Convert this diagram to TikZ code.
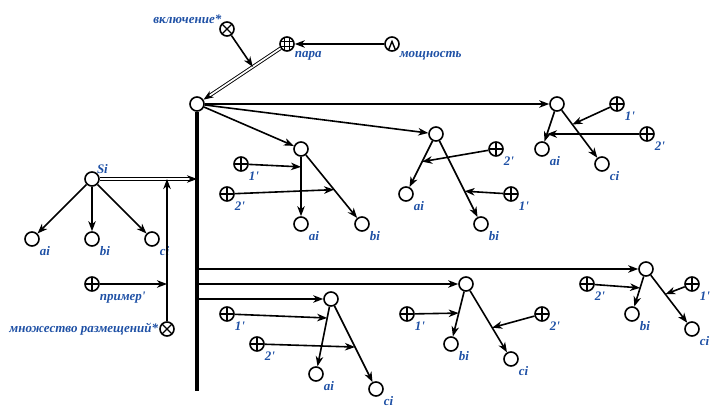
\documentclass[tikz,border=0pt]{standalone}
\usepackage{fontspec}
\setmainfont[Ligatures=TeXOff]{Liberation Serif}
\usetikzlibrary{arrows.meta,calc}
\definecolor{lblue}{RGB}{30,80,165}
\begin{document}
\begin{tikzpicture}[x=1pt,y=-1pt,
 nd/.style={circle,draw,line width=1.6pt,minimum size=14pt,inner sep=0pt},
 opl/.style={nd,path picture={\draw[line width=1.4pt] (path picture bounding box.north)--(path picture bounding box.south) (path picture bounding box.west)--(path picture bounding box.east);}},
 otm/.style={nd,path picture={\draw[line width=1.4pt] ($(path picture bounding box.center)+(45:7pt)$)--($(path picture bounding box.center)+(225:7pt)$) ($(path picture bounding box.center)+(135:7pt)$)--($(path picture bounding box.center)+(-45:7pt)$);}},
 ogr/.style={nd,path picture={\draw[line width=1.1pt] ($(path picture bounding box.center)+(-2.5pt,-8pt)$)--++(0,16pt) ($(path picture bounding box.center)+(2.5pt,-8pt)$)--++(0,16pt) ($(path picture bounding box.center)+(-8pt,-2.5pt)$)--++(16pt,0) ($(path picture bounding box.center)+(-8pt,2.5pt)$)--++(16pt,0);}},
 owg/.style={nd,path picture={\draw[line width=1.4pt] ($(path picture bounding box.center)+(-120:7pt)$)--($(path picture bounding box.center)+(0,2.5pt)$)--($(path picture bounding box.center)+(-60:7pt)$);}},
 lab/.style={text=lblue,font=\bfseries\itshape\fontsize{13}{15}\selectfont,inner sep=0pt},
 arr/.style={line width=1.6pt,-{Stealth[length=10pt,width=7.5pt,inset=3pt]}},
 dbl/.style={double,line width=0.9pt,double distance=1.8pt,-{Stealth[length=10pt,width=7.5pt,inset=3pt]}},
 ll/.style={label={[lab,label distance=3pt]below right:#1}},
]
\useasboundingbox (0,0) rectangle (717,419);
% top
\node[nd] (O) at (197,104) {};
\node[otm,label={[lab,label distance=0pt]above left:включение*}] (Incl) at (227,29) {};
\node[ogr,ll=пара] (Para) at (287,44) {};
\node[owg,ll=мощность] (Mosh) at (392,44) {};
\draw[arr] (Mosh) -- (Para);
\draw[dbl] (Para) -- (O);
\path (Para) -- (O) coordinate[pos=0.36] (dq);
\draw[arr] (Incl) -- (dq);
% bar
\coordinate (bS) at (197,179);
\coordinate (b1) at (197,269);
\coordinate (b2) at (197,284);
\coordinate (b3) at (197,299);
\coordinate (bE) at (197,391);
\draw[line width=4.5pt] (O.south) -- (bE);
% top right tree
\node[nd] (A) at (557,104) {};
\node[nd,ll=ai] (Aai) at (542,149) {};
\node[nd,ll=ci] (Aci) at (602,164) {};
\node[opl,ll=1'] (Ap1) at (617,104) {};
\node[opl,ll=2'] (Ap2) at (647,134) {};
\draw[arr] (O) -- (A);
\draw[arr] (A) -- (Aai);
\draw[arr] (A) -- (Aci);
\path (A) -- (Aci) coordinate[pos=0.3] (Aq1);
\path (A) -- (Aai) coordinate[pos=0.75] (Aq2);
\draw[arr] (Ap1) -- (Aq1);
\draw[arr] (Ap2) -- (Aq2);
% top middle tree
\node[nd] (B) at (436,134) {};
\node[nd,ll=ai] (Bai) at (406,194) {};
\node[nd,ll=bi] (Bbi) at (481,224) {};
\node[opl,ll=2'] (Bp2) at (496,149) {};
\node[opl,ll=1'] (Bp1) at (511,194) {};
\draw[arr] (O) -- (B);
\draw[arr] (B) -- (Bai);
\draw[arr] (B) -- (Bbi);
\path (B) -- (Bai) coordinate[pos=0.45] (Bq2);
\path (B) -- (Bbi) coordinate[pos=0.66] (Bq1);
\draw[arr] (Bp2) -- (Bq2);
\draw[arr] (Bp1) -- (Bq1);
% top left tree
\node[nd] (C) at (301,149) {};
\node[nd,ll=ai] (Cai) at (301,224) {};
\node[nd,ll=bi] (Cbi) at (362,224) {};
\node[opl,ll=1'] (Cp1) at (241,164) {};
\node[opl,ll=2'] (Cp2) at (227,194) {};
\draw[arr] (O) -- (C);
\draw[arr] (C) -- (Cai);
\draw[arr] (C) -- (Cbi);
\path (C) -- (Cai) coordinate[pos=0.17] (Cq1);
\path (C) -- (Cbi) coordinate[pos=0.55] (Cq2);
\draw[arr] (Cp1) -- (Cq1);
\draw[arr] (Cp2) -- (Cq2);
% Si tree
\node[nd,label={[lab,label distance=-1pt]above right:Si}] (S) at (92,179) {};
\node[nd,ll=ai] (Sai) at (32,239) {};
\node[nd,ll=bi] (Sbi) at (92,239) {};
\node[nd,ll=ci] (Sci) at (152,239) {};
\draw[arr] (S) -- (Sai);
\draw[arr] (S) -- (Sbi);
\draw[arr] (S) -- (Sci);
\draw[dbl] (S) -- (bS);
\coordinate (mS) at (167,179);
\coordinate (mP) at (167,284);
\node[opl,ll=пример'] (Pr) at (92,284) {};
\node[otm,label={[lab,label distance=1pt]left:множество размещений*}] (Mn) at (167,329) {};
\draw[arr] (Mn) -- (mS);
\draw[arr] (Pr) -- (mP);
% bottom right tree
\node[nd] (D) at (646,269) {};
\node[nd,ll=bi] (Dbi) at (632,314) {};
\node[nd,ll=ci] (Dci) at (692,329) {};
\node[opl,ll=2'] (Dp2) at (587,284) {};
\node[opl,ll=1'] (Dp1) at (692,284) {};
\draw[arr] (b1) -- (D);
\draw[arr] (D) -- (Dbi);
\draw[arr] (D) -- (Dci);
\path (D) -- (Dbi) coordinate[pos=0.38] (Dq2);
\path (D) -- (Dci) coordinate[pos=0.4] (Dq1);
\draw[arr] (Dp2) -- (Dq2);
\draw[arr] (Dp1) -- (Dq1);
% bottom middle tree
\node[nd] (E) at (466,284) {};
\node[nd,ll=bi] (Ebi) at (451,344) {};
\node[nd,ll=ci] (Eci) at (511,359) {};
\node[opl,ll=1'] (Ep1) at (407,314) {};
\node[opl,ll=2'] (Ep2) at (542,314) {};
\draw[arr] (b2) -- (E);
\draw[arr] (E) -- (Ebi);
\draw[arr] (E) -- (Eci);
\path (E) -- (Ebi) coordinate[pos=0.48] (Eq1);
\path (E) -- (Eci) coordinate[pos=0.6] (Eq2);
\draw[arr] (Ep1) -- (Eq1);
\draw[arr] (Ep2) -- (Eq2);
% bottom left tree
\node[nd] (F) at (331,299) {};
\node[nd,ll=ai] (Fai) at (316,374) {};
\node[nd,ll=ci] (Fci) at (376,389) {};
\node[opl,ll=1'] (Fp1) at (227,314) {};
\node[opl,ll=2'] (Fp2) at (257,344) {};
\draw[arr] (b3) -- (F);
\draw[arr] (F) -- (Fai);
\draw[arr] (F) -- (Fci);
\path (F) -- (Fai) coordinate[pos=0.19] (Fq1);
\path (F) -- (Fci) coordinate[pos=0.54] (Fq2);
\draw[arr] (Fp1) -- (Fq1);
\draw[arr] (Fp2) -- (Fq2);
\end{tikzpicture}
\end{document}
